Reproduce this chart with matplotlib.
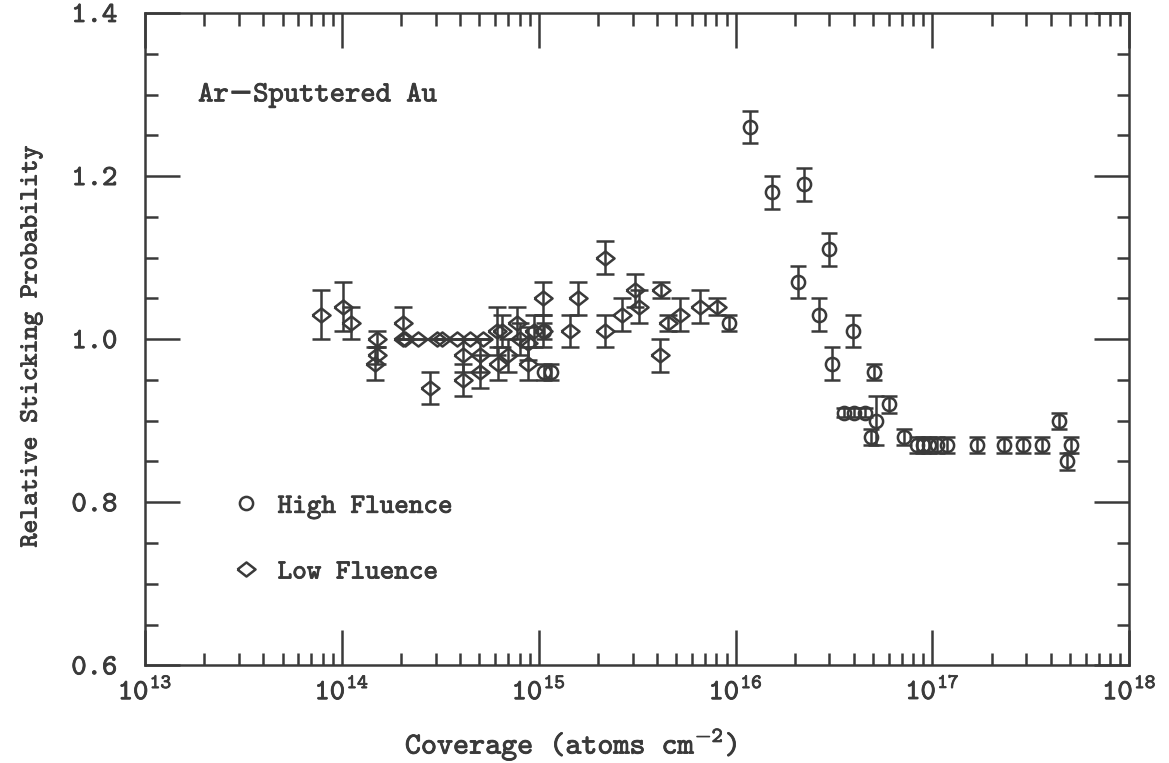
import numpy as np
import matplotlib
matplotlib.use('Agg')
import matplotlib.pyplot as plt
import matplotlib.patheffects as pe
from matplotlib.lines import Line2D
from matplotlib.ticker import LogLocator, MultipleLocator, FuncFormatter

plt.rcParams['font.family'] = ['cmtt10', 'DejaVu Sans']
plt.rcParams['mathtext.fontset'] = 'custom'
plt.rcParams['mathtext.rm'] = 'cmtt10'
plt.rcParams['mathtext.it'] = 'cmtt10'
plt.rcParams['mathtext.tt'] = 'cmtt10'
plt.rcParams['axes.unicode_minus'] = False

INK = '#3a3a3a'
LW = 1.8
# slightly heavier strokes for the typewriter lettering
BOLD = [pe.withStroke(linewidth=0.6, foreground=INK)]

# low fluence (diamonds)
low_x = [7.8e13, 1.01e14, 1.11e14, 1.51e14, 1.51e14, 1.48e14, 2.04e14, 2.04e14,
         2.09e14, 2.43e14, 2.80e14, 3.04e14, 3.22e14, 3.84e14, 4.11e14, 4.11e14,
         4.46e14, 5.02e14, 5.02e14, 5.20e14, 6.12e14, 6.20e14, 6.49e14, 6.96e14,
         7.73e14, 8.01e14, 8.79e14, 8.79e14, 9.44e14, 1.05e15, 1.05e15, 1.44e15,
         1.58e15, 2.16e15, 2.16e15, 2.64e15, 3.10e15, 3.22e15, 4.11e15, 4.16e15,
         4.52e15, 5.20e15, 6.57e15, 8.01e15]
low_y = [1.03, 1.04, 1.02, 1.00, 0.98, 0.97, 1.02, 1.00,
         1.00, 1.00, 0.94, 1.00, 1.00, 1.00, 0.98, 0.95,
         1.00, 0.98, 0.96, 1.00, 1.01, 0.97, 1.01, 0.98,
         1.02, 1.00, 0.995, 0.97, 1.01, 1.05, 1.01, 1.01,
         1.05, 1.10, 1.01, 1.03, 1.06, 1.04, 0.98, 1.06,
         1.02, 1.03, 1.04, 1.04]
low_err = [0.03, 0.03, 0.02, 0.01, 0.01, 0.02, 0.02, 0.0,
           0.0, 0.0, 0.02, 0.0, 0.0, 0.0, 0.02, 0.02,
           0.0, 0.02, 0.02, 0.0, 0.03, 0.02, 0.02, 0.02,
           0.02, 0.02, 0.02, 0.02, 0.02, 0.02, 0.02, 0.02,
           0.02, 0.02, 0.02, 0.02, 0.02, 0.02, 0.02, 0.01,
           0.01, 0.02, 0.02, 0.01]

# high fluence (circles)
high_x = [1.06e15, 1.15e15, 1.07e15, 9.3e15, 1.18e16, 1.54e16, 2.07e16, 2.24e16,
          2.67e16, 3.0e16, 3.1e16, 3.93e16, 3.57e16, 4.02e16, 4.57e16, 5.08e16,
          4.9e16, 5.2e16, 6.05e16, 7.2e16, 8.4e16, 9.0e16, 9.66e16, 1.05e17,
          1.18e17, 1.69e17, 2.32e17, 2.90e17, 3.61e17, 4.42e17, 4.84e17, 5.08e17]
high_y = [0.96, 0.96, 1.01, 1.02, 1.26, 1.18, 1.07, 1.19,
          1.03, 1.11, 0.97, 1.01, 0.91, 0.91, 0.91, 0.96,
          0.88, 0.90, 0.92, 0.88, 0.87, 0.87, 0.87, 0.87,
          0.87, 0.87, 0.87, 0.87, 0.87, 0.90, 0.85, 0.87]
high_err = [0.01, 0.01, 0.01, 0.01, 0.02, 0.02, 0.02, 0.02,
            0.02, 0.02, 0.02, 0.02, 0.005, 0.005, 0.005, 0.01,
            0.01, 0.03, 0.01, 0.01, 0.01, 0.01, 0.01, 0.01,
            0.01, 0.01, 0.01, 0.01, 0.01, 0.01, 0.01, 0.01]

diamond = [(-1, 0), (0, 0.78), (1, 0), (0, -0.78), (-1, 0)]

fig = plt.figure(figsize=(11.69, 7.63), dpi=100)
ax = fig.add_axes([0.124, 0.128, 0.842, 0.855])

ax.errorbar(low_x, low_y, yerr=low_err, fmt='none', ecolor=INK, elinewidth=LW,
            capsize=6.5, capthick=LW)
ax.plot(low_x, low_y, ls='none', marker=diamond, ms=13, mfc='none', mec=INK, mew=LW)
ax.errorbar(high_x, high_y, yerr=high_err, fmt='none', ecolor=INK, elinewidth=LW,
            capsize=5.5, capthick=LW)
ax.plot(high_x, high_y, ls='none', marker='o', ms=9.5, mfc='none', mec=INK, mew=LW)

ax.set_xscale('log')
ax.set_xlim(1e13, 1e18)
ax.set_ylim(0.6, 1.4)
ax.xaxis.set_major_locator(LogLocator(base=10, numticks=10))
ax.xaxis.set_minor_locator(LogLocator(base=10, subs=np.arange(2, 10), numticks=20))
ax.xaxis.set_major_formatter(FuncFormatter(lambda v, p: r'$10^{%d}$' % round(np.log10(v))))
ax.yaxis.set_major_locator(MultipleLocator(0.2))
ax.yaxis.set_minor_locator(MultipleLocator(0.05))
ax.yaxis.set_major_formatter(FuncFormatter(lambda v, p: f'{v:.1f}'))

ax.tick_params(which='both', direction='in', top=True, right=True, color=INK,
               width=LW, labelcolor=INK)
ax.tick_params(which='major', length=25, labelsize=21)
ax.tick_params(axis='x', which='major', pad=9)
ax.tick_params(axis='y', which='major', pad=20)
ax.tick_params(which='minor', length=9)
for s in ax.spines.values():
    s.set_color(INK)
    s.set_linewidth(LW)

ax.set_xlabel(r'Coverage (atoms cm$^{-2}$)', fontsize=22, color=INK)
ax.xaxis.set_label_coords(0.433, -0.093)
ax.set_ylabel('Relative Sticking Probability', fontsize=19, color=INK)
ax.yaxis.set_label_coords(-0.104, 0.489)

ax.text(0.054, 0.873, 'Ar\u2212Sputtered Au', transform=ax.transAxes, fontsize=21,
        color=INK, va='center')

handles = [Line2D([], [], ls='none', marker='o', ms=9.5, mfc='none', mec=INK, mew=LW),
           Line2D([], [], ls='none', marker=diamond, ms=13, mfc='none', mec=INK, mew=LW)]
leg = ax.legend(handles, ['High Fluence', 'Low Fluence'], loc='upper left',
                bbox_to_anchor=(0.06, 0.302), frameon=False, fontsize=20,
                labelspacing=1.45, handlelength=1.2, handletextpad=0.55)
for t in leg.get_texts():
    t.set_color(INK)

texts = [ax.xaxis.label, ax.yaxis.label] + ax.texts + leg.get_texts()
texts += ax.get_xticklabels() + ax.get_yticklabels()
for t in texts:
    t.set_path_effects(BOLD)

fig.savefig('out.png', dpi=100)
